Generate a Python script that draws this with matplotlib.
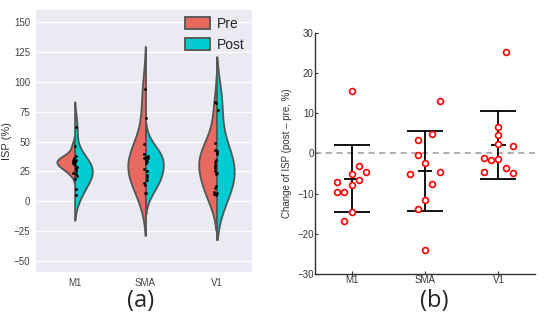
import numpy as np
import pandas as pd
import matplotlib
matplotlib.use("Agg")
import matplotlib.pyplot as plt
import seaborn as sns

regions = ["M1", "SMA", "V1"]

# ISP (%) per subject, panel (a)
m1_pre = [46, 38, 36, 35, 34, 33, 32, 31, 29, 27, 24]
m1_post = [62, 35, 33, 30, 28, 25, 23, 21, 19, 10, 5.5]
sma_pre = [94, 70, 40, 38, 36, 34, 32, 25, 20, 15, 7]
sma_post = [48, 40, 37, 36, 35, 27, 25, 22, 18, 14, 7]
v1_pre = [76, 49, 43, 40, 35, 30, 28, 24, 13, 8, 5]
v1_post = [83, 82, 42, 41, 33, 29, 25, 23, 11, 7, 6]

# change of ISP (post - pre, %), panel (b)
m1_change = [15.5, -5.0, -3.2, -4.7, -6.7, -7.8, -7.2, -9.6, -9.6, -14.5, -16.8]
sma_change = [13.1, 4.75, 3.25, -0.5, -2.3, -5.0, -4.6, -7.6, -11.5, -13.9, -24.1]
v1_change = [25.2, 6.6, 4.7, 2.4, 1.75, -1.2, -1.6, -1.3, -4.6, -3.6, -4.75]
# horizontal jitter of the points in (b)
m1_jit = [0, 0, 0.1, 0.2, 0.1, 0, -0.2, -0.2, -0.1, 0, -0.1]
sma_jit = [0.2, 0.1, -0.1, -0.1, 0, -0.2, 0.2, 0.1, 0, -0.1, 0]
v1_jit = [0.1, 0, 0, 0, 0.2, -0.2, -0.1, 0, -0.2, 0.1, 0.2]

pre = [m1_pre, sma_pre, v1_pre]
post = [m1_post, sma_post, v1_post]
rows = []
for r, a, b in zip(regions, pre, post):
    rows += [(r, "Pre", v) for v in a]
    rows += [(r, "Post", v) for v in b]
df = pd.DataFrame(rows, columns=["region", "cond", "isp"])

sns.set_style("darkgrid")
plt.rcParams['font.family'] = ['Liberation Sans', 'DejaVu Sans']

fig = plt.figure(figsize=(5.5, 3.2), dpi=100)
ax1 = fig.add_axes([0.066, 0.15, 0.392, 0.819])
ax2 = fig.add_axes([0.573, 0.144, 0.40, 0.753])

sns.violinplot(data=df, x="region", y="isp", hue="cond", split=True,
               inner=None, width=0.5, density_norm="width", cut=2,
               bw_adjust=1.15,
               palette=["#E8695F", "#00CDD3"], saturation=1,
               linecolor="#555555", linewidth=1.3, ax=ax1)
sns.stripplot(data=df, x="region", y="isp", color="k", size=2, jitter=0.03,
              ax=ax1)
ax1.set_ylim(-59, 160)
ax1.set_xlim(-0.54, 2.5)
ax1.set_yticks([-50, -25, 0, 25, 50, 75, 100, 125, 150])
ax1.xaxis.grid(False)
ax1.set_xlabel("")
ax1.set_ylabel("ISP (%)", fontsize=8, color="#333333")
ax1.yaxis.set_label_coords(-0.115, 0.5)
ax1.tick_params(labelsize=7, colors="#444444", pad=1)
ax1.legend(loc="upper right", fontsize=10, frameon=False, handlelength=1.8,
           handleheight=0.9, handletextpad=0.5, borderaxespad=0.1)
for s in ax1.spines.values():
    s.set_visible(False)

# panel (b)
ax2.set_facecolor("white")
ax2.grid(False)
changes = [m1_change, sma_change, v1_change]
jits = [m1_jit, sma_jit, v1_jit]
ax2.axhline(0, color="#999999", ls="--", lw=1.1, dashes=(4, 3), zorder=1)
for i, (c, j) in enumerate(zip(changes, jits)):
    m = np.mean(c)
    sd = np.std(c, ddof=1)
    ax2.errorbar(i, m, yerr=sd, color="k", lw=1.3, capsize=13,
                 capthick=1.3, zorder=2)
    ax2.hlines(m, i - 0.1, i + 0.1, color="k", lw=1.3, zorder=2)
    ax2.plot(i + np.array(j), c, "o", ms=4.2, mfc="white", mec="red",
             mew=1.2, zorder=3)
ax2.set_xlim(-0.5, 2.5)
ax2.set_ylim(-30, 30)
ax2.set_xticks(range(3))
ax2.set_xticklabels(regions)
ax2.set_yticks(range(-30, 31, 10))
for s in ["top", "right"]:
    ax2.spines[s].set_visible(False)
for s in ["left", "bottom"]:
    ax2.spines[s].set_visible(True)
    ax2.spines[s].set_color("#333333")
    ax2.spines[s].set_linewidth(1.0)
ax2.tick_params(direction="in", length=2, labelsize=7, colors="#333333",
                pad=1, left=True, bottom=True)
ax2.set_ylabel("Change of ISP (post \u2013 pre, %)", fontsize=7,
               color="#333333", labelpad=4)

fig.text(0.255, 0.06, "(a)", fontsize=17, ha="center", va="center",
         family="Open Sans")
fig.text(0.79, 0.06, "(b)", fontsize=17, ha="center", va="center",
         family="Open Sans")

fig.savefig("out.png", dpi=100, facecolor="white")
